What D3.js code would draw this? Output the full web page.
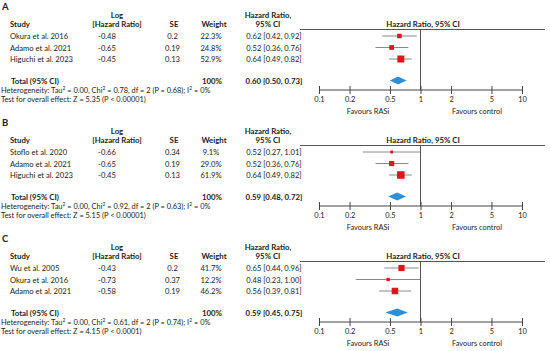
<!DOCTYPE html>
<html>
<head>
<meta charset="utf-8">
<script src="https://cdn.jsdelivr.net/npm/d3@7"></script>
<style>
  body { margin: 0; background: #fff; }
  svg { display: block; font-family: Lato, "Open Sans", sans-serif; fill: #222; }
  .bold { font-weight: bold; }
</style>
</head>
<body>
<svg id="chart" width="550" height="351"></svg>
<script>
// one entry per panel
const panelLabels = ["A", "B", "C"];
const studies = [
  ["Okura et al. 2016", "Adamo et al. 2021", "Higuchi et al. 2023"],
  ["Stoflo et al. 2020", "Adamo et al. 2021", "Higuchi et al. 2023"],
  ["Wu et al. 2005", "Okura et al. 2016", "Adamo et al. 2021"]
];
const logHR = [["-0.48", "-0.65", "-0.45"], ["-0.66", "-0.65", "-0.45"], ["-0.43", "-0.73", "-0.58"]];
const seVals = [["0.2", "0.19", "0.13"], ["0.34", "0.19", "0.13"], ["0.2", "0.37", "0.19"]];
const weights = [[22.3, 24.8, 52.9], [9.1, 29.0, 61.9], [41.7, 12.2, 46.2]];
const hr = [[0.62, 0.52, 0.64], [0.52, 0.52, 0.64], [0.65, 0.48, 0.56]];
const lower = [[0.42, 0.36, 0.49], [0.27, 0.36, 0.49], [0.44, 0.23, 0.39]];
const upper = [[0.92, 0.76, 0.82], [1.01, 0.76, 0.82], [0.96, 1.00, 0.81]];
const totalHR = [0.60, 0.59, 0.59];
const totalLower = [0.50, 0.48, 0.45];
const totalUpper = [0.73, 0.72, 0.75];
const chi2 = ["0.78", "0.92", "0.61"];
const chiP = ["0.68", "0.63", "0.74"];
const zVals = ["5.35", "5.15", "4.15"];
const zP = ["P < 0.00001", "P < 0.00001", "P < 0.0001"];
const ticks = [0.1, 0.2, 0.5, 1, 2, 5, 10];

const svg = d3.select("#chart");
const x = d3.scaleLog().domain([0.1, 10]).range([319, 522]);
const side = d3.scaleSqrt().domain([0, 100]).range([0, 9.6]);
const f2 = d3.format(".2f");
const panelH = 116;
const rowY = [36, 47.5, 59];

panelLabels.forEach((lab, p) => {
  const g = svg.append("g").attr("transform", `translate(0,${p * panelH})`);

  const txt = (tx, ty, s, anchor = "start", size = 7.6, bold = false) =>
    g.append("text").attr("x", tx).attr("y", ty).attr("text-anchor", anchor)
      .attr("font-size", size).attr("class", bold ? "bold" : null).text(s);

  txt(2, 10, lab, "start", 9.5, true);

  // headers
  txt(117, 18, "Log", "middle", 7.8, true);
  txt(268, 18, "Hazard Ratio,", "middle", 7.8, true);
  txt(10, 27, "Study", "start", 7.8, true);
  txt(117, 27, "[Hazard Ratio]", "middle", 7.8, true);
  txt(174, 27, "SE", "middle", 7.8, true);
  txt(214, 27, "Weight", "middle", 7.8, true);
  txt(268, 27, "95% CI", "middle", 7.8, true);
  txt(423, 27, "Hazard Ratio, 95% CI", "middle", 7.8, true);

  g.append("line").attr("x1", 300).attr("x2", 545).attr("y1", 29.5).attr("y2", 29.5)
    .attr("stroke", "#555").attr("stroke-width", 1);

  // study rows
  studies[p].forEach((name, i) => {
    const cy = rowY[i];
    txt(10, cy + 3, name);
    txt(107, cy + 3, logHR[p][i], "middle");
    txt(172.5, cy + 3, seVals[p][i], "middle");
    txt(211, cy + 3, weights[p][i].toFixed(1) + "%", "middle");
    txt(274, cy + 3, `${f2(hr[p][i])} [${f2(lower[p][i])}, ${f2(upper[p][i])}]`, "middle");

    g.append("line").attr("x1", x(lower[p][i])).attr("x2", x(upper[p][i]))
      .attr("y1", cy).attr("y2", cy).attr("stroke", "#8a8a8a").attr("stroke-width", 1);
    const s = side(weights[p][i]);
    g.append("rect").attr("x", x(hr[p][i]) - s / 2).attr("y", cy - s / 2)
      .attr("width", s).attr("height", s).attr("fill", "#e3121b");
  });

  // total
  txt(11, 84, "Total (95% CI)", "start", 7.8, true);
  txt(212, 84, "100%", "middle", 7.8, true);
  txt(274, 84, `${f2(totalHR[p])} [${f2(totalLower[p])}, ${f2(totalUpper[p])}]`, "middle", 7.8, true);
  const dy = 80.5;
  g.append("path")
    .attr("d", `M${x(totalLower[p])},${dy} L${x(totalHR[p])},${dy - 4} L${x(totalUpper[p])},${dy} L${x(totalHR[p])},${dy + 4} Z`)
    .attr("fill", "#2e8fd6");

  const het = g.append("text").attr("x", 1).attr("y", 92.5).attr("font-size", 7.4);
  het.append("tspan").text("Heterogeneity: Tau");
  het.append("tspan").attr("font-size", 5).attr("dy", -3).text("2");
  het.append("tspan").attr("dy", 3).text(" = 0.00, Chi");
  het.append("tspan").attr("font-size", 5).attr("dy", -3).text("2");
  het.append("tspan").attr("dy", 3).text(` = ${chi2[p]}, df = 2 (P = ${chiP[p]}); I`);
  het.append("tspan").attr("font-size", 5).attr("dy", -3).text("2");
  het.append("tspan").attr("dy", 3).text(" = 0%");
  txt(1, 102, `Test for overall effect: Z = ${zVals[p]} (${zP[p]})`, "start", 7.4);

  // null line
  g.append("line").attr("x1", x(1)).attr("x2", x(1)).attr("y1", 29.5).attr("y2", 90)
    .attr("stroke", "#555").attr("stroke-width", 1);

  // axis
  const axis = d3.axisBottom(x).tickValues(ticks).tickFormat(d => d).tickSize(4).tickPadding(3);
  const ag = g.append("g").attr("transform", "translate(0,90)").call(axis);
  ag.select(".domain").attr("stroke", "#444").attr("d", `M${x(0.1)},0H${x(10)}`);
  ag.selectAll(".tick line").attr("y1", -4).attr("y2", 4).attr("stroke", "#444");
  ag.selectAll(".tick text").attr("font-size", 7.4).attr("font-family", "Lato, sans-serif").attr("fill", "#222");

  txt(368, 113.5, "Favours RASi", "middle", 7.4);
  txt(477, 113.5, "Favours control", "middle", 7.4);
});
</script>
</body>
</html>
